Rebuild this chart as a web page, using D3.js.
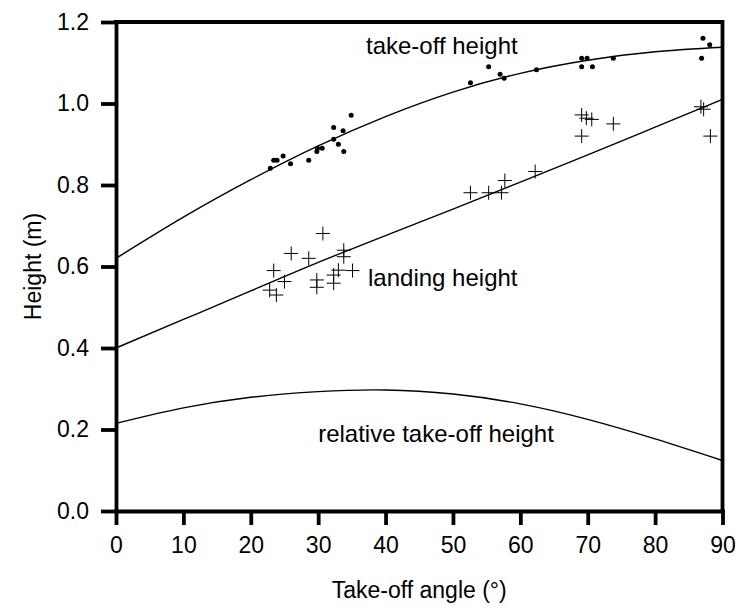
<!DOCTYPE html>
<html>
<head>
<meta charset="utf-8">
<script src="https://cdn.jsdelivr.net/npm/d3@7"></script>
<style>
  body { margin: 0; background: #fff; }
</style>
</head>
<body>
<div id="container"></div>
<script>
// svg size
const width = 741;
const height = 612;

// plot area
const marginLeft = 116;
const marginRight = 18.5;
const marginTop = 22;
const marginBottom = 101;

const fontFamily = "'Liberation Sans', Arial, Helvetica, sans-serif";
const tickFontSize = "23px";
const titleFontSize = "23px";
const labelFontSize = "24px";
const axisWidth = 3.8;

// fitted curves, read at every 10 degrees
const curveAngles = [0, 10, 20, 30, 40, 50, 60, 70, 80, 90];
const takeoffCurve = [0.620, 0.721, 0.813, 0.896, 0.968, 1.028, 1.074, 1.106, 1.127, 1.138];
const landingCurve = [0.400, 0.470, 0.540, 0.610, 0.676, 0.741, 0.807, 0.874, 0.942, 1.010];
const relativeCurve = [0.215, 0.253, 0.279, 0.293, 0.297, 0.287, 0.263, 0.225, 0.177, 0.124];

// measured take-off heights (dots)
const takeoffAngles = [22.9, 23.4, 23.9, 24.8, 25.9, 28.6, 29.8, 29.9, 30.6, 32.3, 32.3, 33.0, 33.8, 33.7, 34.9,
  52.6, 55.3, 57.0, 57.6, 62.4, 69.1, 69.9, 69.1, 70.7, 73.8, 86.9, 87.1, 88.1];
const takeoffHeights = [0.841, 0.861, 0.861, 0.871, 0.852, 0.861, 0.882, 0.890, 0.890, 0.912, 0.941, 0.900, 0.882, 0.933, 0.971,
  1.051, 1.090, 1.072, 1.062, 1.083, 1.111, 1.111, 1.090, 1.090, 1.111, 1.111, 1.160, 1.144];

// measured landing heights (crosses)
const landingAngles = [22.8, 23.4, 23.8, 25.0, 26.0, 28.6, 29.8, 29.8, 30.7, 32.3, 32.3, 33.0, 33.8, 33.8, 35.1,
  52.6, 55.3, 57.2, 57.7, 62.2, 69.1, 69.8, 70.6, 69.1, 73.8, 86.8, 87.2, 88.2];
const landingHeights = [0.542, 0.590, 0.530, 0.563, 0.632, 0.620, 0.567, 0.549, 0.681, 0.579, 0.559, 0.591, 0.640, 0.624, 0.590,
  0.781, 0.781, 0.781, 0.811, 0.833, 0.972, 0.964, 0.961, 0.920, 0.950, 0.992, 0.986, 0.920];

const xTicks = [0, 10, 20, 30, 40, 50, 60, 70, 80, 90];
const yTicks = [0, 0.2, 0.4, 0.6, 0.8, 1.0, 1.2];

// curve labels: angle / height of the text start
const labelTexts = ["take-off height", "landing height", "relative take-off height"];
const labelAngles = [37.1, 37.4, 30.0];
const labelHeights = [1.1215, 0.552, 0.169];

const svg = d3.select("#container").append("svg")
  .attr("width", width)
  .attr("height", height)
  .attr("font-family", fontFamily);

const x = d3.scaleLinear().domain([0, 90]).range([marginLeft, width - marginRight]);
const y = d3.scaleLinear().domain([0, 1.2]).range([height - marginBottom, marginTop]);

// frame top and right
svg.append("path")
  .attr("d", `M${x(0)},${y(1.2)}H${x(90)}V${y(0)}`)
  .attr("fill", "none")
  .attr("stroke", "#000")
  .attr("stroke-width", axisWidth)
  .attr("stroke-linecap", "square");

const xAxis = svg.append("g")
  .attr("transform", `translate(0,${y(0)})`)
  .call(d3.axisBottom(x).tickValues(xTicks).tickSize(14).tickSizeOuter(0).tickPadding(12).tickFormat(d3.format("d")));

const yAxis = svg.append("g")
  .attr("transform", `translate(${x(0)},0)`)
  .call(d3.axisLeft(y).tickValues(yTicks).tickSize(15).tickSizeOuter(0).tickPadding(12).tickFormat(d3.format(".1f")));

[xAxis, yAxis].forEach(g => {
  g.select(".domain").attr("stroke-width", axisWidth).attr("stroke-linecap", "square");
  g.selectAll(".tick line").attr("stroke-width", axisWidth);
  g.selectAll(".tick text")
    .attr("font-family", fontFamily)
    .attr("font-size", tickFontSize)
    .attr("fill", "#000");
});

// axis titles
svg.append("text")
  .attr("x", (x(0) + x(90)) / 2)
  .attr("y", 598)
  .attr("text-anchor", "middle")
  .attr("font-size", titleFontSize)
  .text("Take-off angle (°)");

svg.append("text")
  .attr("transform", `translate(41,${y(0.6)}) rotate(-90)`)
  .attr("text-anchor", "middle")
  .attr("font-size", titleFontSize)
  .text("Height (m)");

// curves
const line = d3.line()
  .x((d, i) => x(curveAngles[i]))
  .y(d => y(d))
  .curve(d3.curveNatural);

[takeoffCurve, landingCurve, relativeCurve].forEach(c => {
  svg.append("path")
    .attr("d", line(c))
    .attr("fill", "none")
    .attr("stroke", "#000")
    .attr("stroke-width", 1.4);
});

// dots
svg.append("g")
  .selectAll("circle")
  .data(takeoffAngles)
  .join("circle")
  .attr("cx", d => x(d))
  .attr("cy", (d, i) => y(takeoffHeights[i]))
  .attr("r", 2.5)
  .attr("fill", "#000");

// crosses
const cs = 7;
svg.append("g")
  .selectAll("path")
  .data(landingAngles)
  .join("path")
  .attr("d", (d, i) => {
    const cx = x(d), cy = y(landingHeights[i]);
    return `M${cx - cs},${cy}H${cx + cs}M${cx},${cy - cs}V${cy + cs}`;
  })
  .attr("stroke", "#000")
  .attr("stroke-width", 1)
  .attr("fill", "none");

svg.append("g")
  .selectAll("text")
  .data(labelTexts)
  .join("text")
  .attr("x", (d, i) => x(labelAngles[i]))
  .attr("y", (d, i) => y(labelHeights[i]))
  .attr("font-size", labelFontSize)
  .text(d => d);
</script>
</body>
</html>
